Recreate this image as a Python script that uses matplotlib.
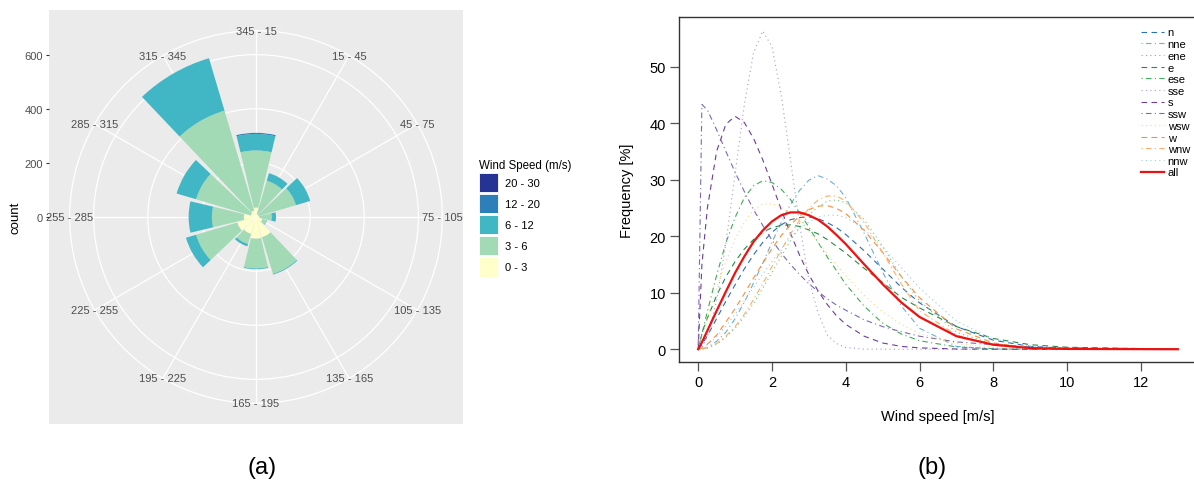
import numpy as np
import matplotlib
matplotlib.use("Agg")
import matplotlib.pyplot as plt
from matplotlib.patches import Patch

plt.rcParams['font.family'] = ['Liberation Sans', 'DejaVu Sans']

# ---------------- (a) wind rose: counts per 30 degree sector ----------------
sectors = ['345 - 15', '15 - 45', '45 - 75', '75 - 105', '105 - 135', '135 - 165',
           '165 - 195', '195 - 225', '225 - 255', '255 - 285', '285 - 315', '315 - 345']
sector_deg = [0, 30, 60, 90, 120, 150, 180, 210, 240, 270, 300, 330]
speed_bins = ['0 - 3', '3 - 6', '6 - 12', '12 - 20', '20 - 30']
speed_colors = ['#ffffcc', '#a1dab4', '#41b6c4', '#2c7fb8', '#253494']
count_0_3 = [35, 10, 10, 12, 25, 78, 80, 65, 72, 45, 20, 25]
count_3_6 = [211, 130, 144, 46, 15, 141, 110, 39, 159, 118, 211, 385]
count_6_12 = [61, 29, 55, 16, 2, 3, 3, 9, 39, 86, 75, 202]
count_12_20 = [4, 0, 0, 0, 0, 0, 0, 0, 0, 0, 0, 0]
count_20_30 = [0, 0, 0, 0, 0, 0, 0, 0, 0, 0, 0, 0]

# ---------------- (b) frequency curves per direction ----------------
wind_speed = [0, 0.1, 0.25, 0.5, 0.75, 1, 1.25, 1.5, 1.75, 2, 2.25, 2.5, 2.75, 3,
              3.25, 3.5, 3.75, 4, 4.5, 5, 5.5, 6, 7, 8, 9, 10, 13]
freq_n = [0, 0.8, 2.4, 5.4, 8.5, 11.4, 14.2, 16.7, 18.9, 20.7, 22.0, 22.9, 23.3, 23.4,
          23.1, 22.4, 21.5, 20.3, 17.4, 14.2, 11.0, 8.2, 4.0, 1.6, 0.5, 0.15, 0]
freq_nne = [0, 0.05, 0.3, 1.4, 3.0, 5.4, 8.3, 11.7, 15.2, 18.9, 22.4, 25.6, 28.1, 29.9,
            30.7, 30.1, 28.9, 26.8, 20.5, 13.6, 7.7, 3.7, 0.5, 0.03, 0, 0, 0]
freq_ene = [0, 0.0, 0.2, 0.9, 2.1, 3.7, 5.8, 8.1, 10.8, 13.6, 16.4, 19.2, 21.6, 23.7,
            25.2, 26.2, 26.4, 25.9, 22.9, 18.2, 12.9, 8.5, 3.0, 0.9, 0.3, 0.1, 0]
freq_e = [0, 2.7, 5.5, 9.5, 12.8, 15.5, 17.7, 19.4, 20.7, 21.5, 21.9, 22.0, 21.7, 21.1,
          20.4, 19.4, 18.2, 17.0, 14.3, 11.8, 9.2, 7.3, 4.0, 1.9, 0.8, 0.35, 0]
freq_ese = [0, 2.7, 6.7, 13.1, 18.8, 23.3, 26.8, 28.9, 29.8, 29.5, 28.3, 26.5, 24.1, 21.6,
            18.9, 16.3, 13.9, 11.5, 7.6, 4.6, 2.7, 1.5, 0.4, 0.1, 0, 0, 0]
freq_sse = [0, 0.35, 2.2, 8.6, 18.7, 31.0, 43.2, 52.4, 56.3, 53.5, 45.0, 33.5, 22.0, 12.3,
            6.4, 2.5, 1.0, 0.3, 0.02, 0, 0, 0, 0, 0, 0, 0, 0]
freq_s = [0, 14.9, 25.0, 35.0, 39.8, 41.2, 40.1, 37.3, 33.5, 29.2, 24.7, 20.5, 16.6, 13.2,
          10.3, 7.9, 5.9, 4.4, 2.3, 1.1, 0.5, 0.24, 0.04, 0, 0, 0, 0]
freq_ssw = [0, 43.3, 42.3, 38.8, 35.0, 31.3, 27.9, 24.7, 21.9, 19.3, 17.0, 15.0, 13.2, 11.6,
            10.2, 8.9, 7.8, 6.9, 5.2, 4.0, 3.1, 2.3, 1.3, 0.8, 0.4, 0.25, 0.05]
freq_wsw = [0, 2.2, 5.5, 10.8, 15.5, 19.5, 22.5, 24.6, 25.7, 25.7, 25.2, 24.0, 22.5, 20.8,
            18.9, 16.8, 14.9, 13.0, 9.5, 6.6, 4.4, 2.8, 1.0, 0.3, 0.1, 0.03, 0]
freq_w = [0, 0.2, 0.9, 2.5, 4.8, 7.2, 9.8, 12.6, 15.2, 17.8, 20.1, 22.0, 23.6, 24.7,
          25.3, 25.4, 24.9, 24.0, 21.0, 17.1, 12.9, 9.1, 3.6, 1.1, 0.2, 0.05, 0]
freq_wnw = [0, 0.04, 0.3, 1.0, 2.3, 4.0, 6.2, 8.8, 11.6, 14.6, 17.5, 20.4, 22.8, 24.9,
            26.4, 27.1, 27.1, 26.2, 22.4, 17.1, 11.6, 6.8, 2.5, 0.7, 0.2, 0.05, 0]
freq_nnw = [0, 0.2, 0.8, 2.2, 4.1, 6.2, 8.5, 10.9, 13.3, 15.5, 17.8, 19.8, 21.3, 22.5,
            23.4, 23.7, 23.7, 23.3, 21.2, 18.1, 14.5, 10.8, 5.0, 1.8, 0.5, 0.1, 0]
freq_all = [0, 1.2, 3.3, 6.8, 10.2, 13.5, 16.4, 19.0, 21.0, 22.6, 23.7, 24.2, 24.2, 23.7,
            22.9, 21.7, 20.2, 18.6, 15.0, 11.5, 8.3, 5.7, 2.3, 0.8, 0.2, 0.05, 0]

directions = ['n', 'nne', 'ene', 'e', 'ese', 'sse', 's', 'ssw', 'wsw', 'w', 'wnw', 'nnw']
dir_freqs = [freq_n, freq_nne, freq_ene, freq_e, freq_ese, freq_sse, freq_s, freq_ssw,
             freq_wsw, freq_w, freq_wnw, freq_nnw]
dir_colors = ['#2b6fb3', '#6baed6', '#74c476', '#238b45', '#41ab5d', '#a99bd3',
              '#6a3d9a', '#7d68b3', '#fed976', '#fd8d3c', '#fdae6b', '#9ecae1']
dashed = (0, (5, 4))
dotdash = (0, (1, 3, 5, 3))
dotted = (0, (1, 3))
dir_styles = [dashed, dotdash, dotted] * 4

W, H = 1194, 489


def px_box(left, top, width, height):
    return [left / W, 1 - (top + height) / H, width / W, height / H]


fig = plt.figure(figsize=(W / 100, H / 100), dpi=100)

# ---- panel (a)
counts = [count_0_3, count_3_6, count_6_12, count_12_20, count_20_30]
totals = np.sum(counts, axis=0)
rmax = totals.max()

bg = fig.add_axes(px_box(49, 11, 414, 414))
bg.set_facecolor('#ebebeb')
for sp in bg.spines.values():
    sp.set_visible(False)
bg.set_xlim(-1, 1)
bg.set_ylim(-1.25 * rmax, 1.25 * rmax)
bg.set_xticks([])
bg.set_yticks([0, 200, 400, 600])
bg.tick_params(axis='y', length=2.5, width=0.8, color='#333333',
               labelcolor='#4d4d4d', labelsize=8, pad=2)
bg.set_ylabel('count', fontsize=9.5)
bg.yaxis.set_label_coords(-0.066, 0.5)

rad = 186.3
pol = fig.add_axes(px_box(256 - rad, 218 - rad, 2 * rad, 2 * rad), projection='polar')
pol.set_theta_zero_location('N')
pol.set_theta_direction(-1)
pol.set_facecolor('#ebebeb')
pol.set_ylim(0, rmax * 0.45 / 0.4)
pol.set_yticks([200, 400, 600])
pol.set_yticklabels([])
theta = np.deg2rad(sector_deg)
pol.set_xticks(theta)
pol.set_xticklabels([])
pol.grid(color='white', lw=0.9)
pol.spines['polar'].set_color('white')
pol.spines['polar'].set_linewidth(0.9)
pol.set_axisbelow(True)

bottom = np.zeros(len(sectors))
for vals, col in zip(counts, speed_colors):
    pol.bar(theta, vals, width=np.deg2rad(27), bottom=bottom, color=col, linewidth=0)
    bottom += np.array(vals)

for th, lab in zip(theta, sectors):
    pol.text(th, rmax * 0.45 / 0.4, lab, ha='center', va='center',
             fontsize=8, color='#4d4d4d')

handles = [Patch(facecolor=c, edgecolor='white', linewidth=0.6) for c in speed_colors]
fig.legend(handles[::-1], speed_bins[::-1], title='Wind Speed (m/s)',
           loc='upper left', bbox_to_anchor=(479 / W, 1 - 160 / H), frameon=False,
           fontsize=8, title_fontsize=8.3, handlelength=1.72, handleheight=2.33,
           labelspacing=0.14, handletextpad=0.6, borderpad=0, borderaxespad=0,
           alignment='left')

# ---- panel (b)
ax = fig.add_axes(px_box(679, 18, 518, 345))
for name, vals, col, ls in zip(directions, dir_freqs, dir_colors, dir_styles):
    ax.plot(wind_speed, vals, color=col, lw=0.8, ls=ls, label=name)
ax.plot(wind_speed, freq_all, color='#ee1111', lw=1.6, label='all')

ax.set_xlim(-0.52, 13.52)
ax.set_ylim(-2.26, 58.76)
ax.set_xticks([0, 2, 4, 6, 8, 10, 12])
ax.set_yticks([0, 10, 20, 30, 40, 50])
ax.tick_params(direction='out', length=6.5, width=0.9, color='#555555',
               labelsize=10.5, pad=3)
for sp in ax.spines.values():
    sp.set_color('#333333')
    sp.set_linewidth(1)
ax.set_xlabel('Wind speed [m/s]', fontsize=10.5)
ax.set_ylabel('Frequency [%]', fontsize=10.5)
ax.xaxis.label.set_va('center')
ax.yaxis.label.set_va('center')
ax.xaxis.set_label_coords(0.5, -0.157)
ax.yaxis.set_label_coords(-0.100, 0.5)

ax.legend(loc='upper left', bbox_to_anchor=(1141 / W, 1 - 28.5 / H),
          bbox_transform=fig.transFigure, frameon=False, fontsize=8,
          handlelength=2.1, labelspacing=0.15, handletextpad=0.3,
          borderpad=0, borderaxespad=0)

fig.text(262 / W, 1 - 468 / H, '(a)', ha='center', va='center', fontsize=17)
fig.text(932 / W, 1 - 468 / H, '(b)', ha='center', va='center', fontsize=17)

fig.savefig('out.png', dpi=100)
